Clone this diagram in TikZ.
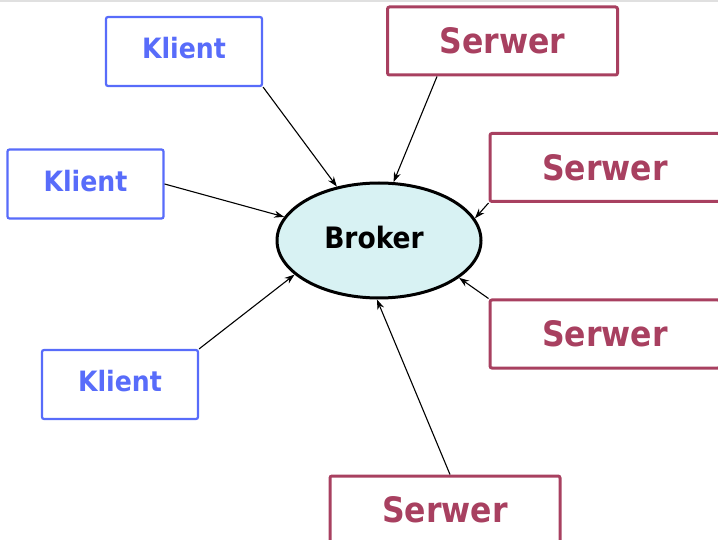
\documentclass[tikz,border=0pt]{standalone}
\usepackage{fontspec}
\setmainfont{DejaVu Sans Condensed}
\usetikzlibrary{shapes.geometric,arrows.meta}
\definecolor{kblue}{RGB}{88,108,250}
\definecolor{sred}{RGB}{168,64,96}
\definecolor{bfill}{RGB}{216,242,243}
\tikzset{
  kbox/.style={draw=kblue, line width=2.2pt, rounded corners=2pt, text=kblue,
    font=\fontsize{28}{30}\selectfont\bfseries, minimum width=156pt, minimum height=69pt, inner sep=0pt,
    text depth=7pt},
  sbox/.style={draw=sred, line width=3pt, rounded corners=2pt, text=sred,
    font=\fontsize{35}{38}\selectfont\bfseries, minimum width=230pt, minimum height=68pt, inner sep=0pt},
  conn/.style={line width=1.1pt, -{Stealth[length=10pt,width=7pt]}}
}
\begin{document}
\begin{tikzpicture}[x=1pt,y=-1pt]
\useasboundingbox (0,0) rectangle (718,540);
\fill[black!12] (0,0) rectangle (718,2);
\node[draw=black, line width=3pt, fill=bfill, ellipse, minimum width=204pt, minimum height=115pt, inner sep=0pt] (broker) at (379,240.5) {};
\node[font=\fontsize{29.5}{31}\selectfont\bfseries, inner sep=0pt] (blabel) at (374,237.5) {Broker};
\node[kbox] (k1) at (184,51.5) {Klient};
\node[kbox] (k2) at (85.5,184) {Klient};
\node[kbox] (k3) at (120,384.5) {Klient};
\node[sbox] (s1) at (502.5,41) {Serwer};
\node[sbox] (s2) at (605,167.5) {Serwer};
\node[sbox] (s3) at (605,334) {Serwer};
\node[sbox] (s4) at (445,510) {Serwer};
\draw[conn] (k1.south east) -- (broker.128.4);
\draw[conn] ([xshift=51pt]s1.south west) -- (broker.76.3);
\draw[conn] (k2.east) -- (broker.166.1);
\draw[conn] (s2.south west) -- (broker.13.5);
\draw[conn] (k3.north east) -- (broker.202.6);
\draw[conn] (s3.north west) -- (broker.335.1);
\draw[conn] ([xshift=5pt]s4.north) -- (broker.268);
\end{tikzpicture}
\end{document}
